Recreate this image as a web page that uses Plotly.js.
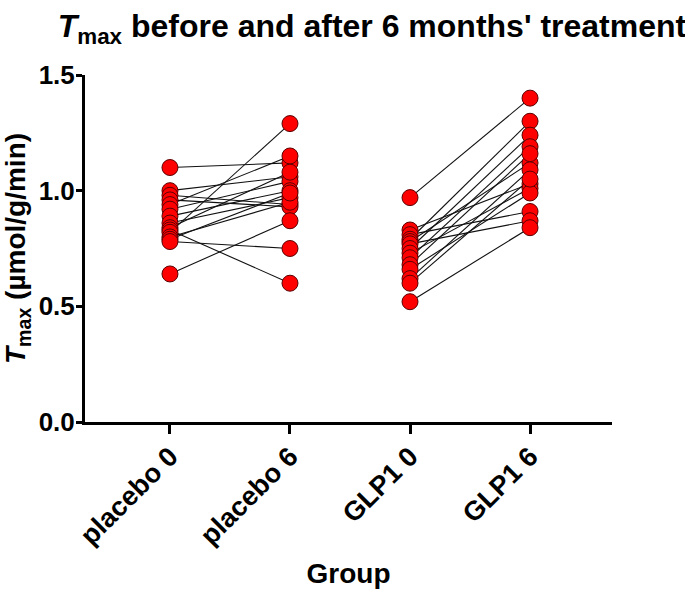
<!DOCTYPE html>
<html>
<head>
<meta charset="utf-8">
<script src="https://cdn.plot.ly/plotly-3.0.1.min.js"></script>
<style>html,body{margin:0;padding:0;background:#fff;}#chart{width:685px;height:589px;}</style>
</head>
<body>
<div id="chart"></div>
<script>
const categories = ['placebo 0', 'placebo 6', 'GLP1 0', 'GLP1 6'];
const placeboBefore = [1.10, 1.00, 0.98, 0.96, 0.94, 0.92, 0.89, 0.86, 0.84, 0.83, 0.82, 0.80, 0.79, 0.78, 0.64];
const placeboAfter  = [1.12, 1.06, 0.94, 0.93, 1.15, 1.04, 1.00, 0.97, 1.08, 0.60, 1.29, 0.95, 0.99, 0.75, 0.87];
const glp1Before = [0.97, 0.83, 0.81, 0.79, 0.78, 0.77, 0.75, 0.73, 0.71, 0.68, 0.66, 0.62, 0.60, 0.52];
const glp1After  = [1.40, 1.03, 0.91, 1.30, 1.12, 0.87, 1.24, 1.01, 1.19, 1.16, 0.99, 1.09, 1.05, 0.84];

const FONT = 'Liberation Sans, Arial, Helvetica, sans-serif';

function pairLines(before, after, c0, c1) {
  const x = [], y = [];
  for (let i = 0; i < before.length; i++) {
    x.push(c0, c1, null);
    y.push(before[i], after[i], null);
  }
  return {x, y};
}
const pl = pairLines(placeboBefore, placeboAfter, categories[0], categories[1]);
const gl = pairLines(glp1Before, glp1After, categories[2], categories[3]);

const lineTrace = {
  x: pl.x.concat(gl.x), y: pl.y.concat(gl.y),
  mode: 'lines', type: 'scatter', connectgaps: false,
  line: {color: '#111', width: 1.1}, hoverinfo: 'skip', showlegend: false
};
const mx = [], my = [];
[[placeboBefore, 0], [placeboAfter, 1], [glp1Before, 2], [glp1After, 3]].forEach(([arr, k]) => {
  arr.forEach(v => { mx.push(categories[k]); my.push(v); });
});
const markerTrace = {
  x: mx, y: my, mode: 'markers', type: 'scatter', showlegend: false,
  marker: {color: '#ff0000', size: 16, line: {color: '#5a0000', width: 1}}
};

const layout = {
  width: 685, height: 589,
  margin: {l: 85, r: 73, t: 75, b: 167},
  paper_bgcolor: '#fff', plot_bgcolor: '#fff',
  font: {family: FONT, color: '#000'},
  title: {
    text: '<b><i>T</i><sub>max</sub> before and after 6 months\' treatment</b>',
    font: {family: FONT, size: 32, color: '#000'},
    xref: 'container', x: 0.543, xanchor: 'center',
    yref: 'container', y: 0.975, yanchor: 'top'
  },
  xaxis: {
    type: 'category', categoryorder: 'array', categoryarray: categories,
    range: [-0.708, 3.683],
    showline: true, linewidth: 3, linecolor: '#000',
    ticks: 'outside', ticklen: 9, tickwidth: 3, tickcolor: '#000',
    showgrid: false, zeroline: false, tickangle: -45, ticklabelstandoff: -4,
    tickfont: {family: FONT, size: 27, color: '#000', weight: 'bold'},
    title: {text: '<b>Group</b>', font: {family: FONT, size: 28, color: '#000'}, standoff: 16}
  },
  yaxis: {
    range: [0, 1.5], dtick: 0.5, tickformat: '.1f',
    showline: true, linewidth: 3, linecolor: '#000',
    ticks: 'outside', ticklen: 6, tickwidth: 3, tickcolor: '#000',
    showgrid: false, zeroline: false, ticklabelstandoff: -4,
    tickfont: {family: FONT, size: 26, color: '#000', weight: 'bold'},
    title: {text: '<b><i>T</i><sub>max</sub> (µmol/g/min)</b>', font: {family: FONT, size: 28, color: '#000'}, standoff: 8}
  }
};

Plotly.newPlot('chart', [lineTrace, markerTrace], layout, {displayModeBar: false, staticPlot: true});
</script>
</body>
</html>
